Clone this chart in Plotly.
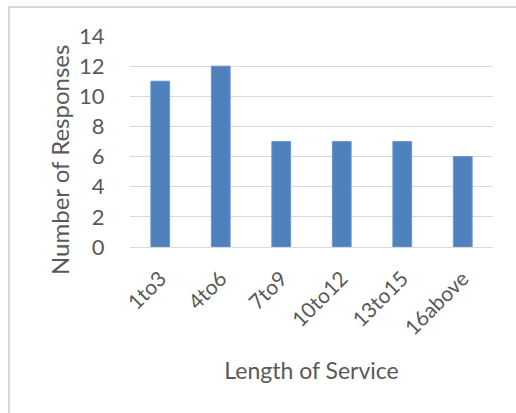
import plotly.graph_objects as go

categories = ["1to3", "4to6", "7to9", "10to12", "13to15", "16above"]
responses = [11, 12, 7, 7, 7, 6]
y_ticks = [0, 2, 4, 6, 8, 10, 12, 14]

W, H = 516, 413
L, R, T, B = 130, 23, 36, 166
pw, ph = W - L - R, H - T - B

font_family = "Lato, 'Open Sans', sans-serif"
text_color = "#595959"
grid_color = "#D9D9D9"

fig = go.Figure(
    go.Bar(
        x=categories,
        y=responses,
        marker=dict(color="#4F81BD", line=dict(color="#6A96CC", width=1)),
    )
)

# chart-area frame (extends past the right and bottom edges of the page)
fx0 = (9 - L) / pw
fy1 = (H - B - 7) / ph
fig.add_shape(
    type="rect", xref="paper", yref="paper",
    x0=fx0, x1=2, y0=-2, y1=fy1,
    line=dict(color=grid_color, width=2), fillcolor="rgba(0,0,0,0)", layer="below",
)

# vertical axis title, centred on the axis including its labels
fig.add_annotation(
    text="Number of Responses", textangle=-90,
    xref="paper", yref="paper",
    x=(59 - L) / pw, y=(H - B - 160) / ph,
    xanchor="center", yanchor="middle", showarrow=False,
    font=dict(size=24, color=text_color),
)

fig.update_layout(
    width=W, height=H,
    margin=dict(l=L, r=R, t=T, b=B),
    paper_bgcolor="white", plot_bgcolor="white",
    bargap=0.69,
    showlegend=False,
    font=dict(family=font_family, color=text_color),
    xaxis=dict(
        tickangle=-45,
        tickfont=dict(size=21, color=text_color),
        showgrid=False,
        showline=True, linecolor=grid_color, linewidth=1,
        ticks="outside", ticklen=10, tickcolor="rgba(0,0,0,0)",
        title=dict(text="Length of Service", font=dict(size=23, color=text_color), standoff=24),
    ),
    yaxis=dict(
        range=[0, 14],
        tickvals=y_ticks,
        tickfont=dict(size=22, color=text_color),
        showgrid=True, gridcolor=grid_color, gridwidth=1,
        zeroline=False, showline=False,
        ticks="outside", ticklen=20, tickcolor="rgba(0,0,0,0)",
    ),
)

fig.write_html("out.html")
